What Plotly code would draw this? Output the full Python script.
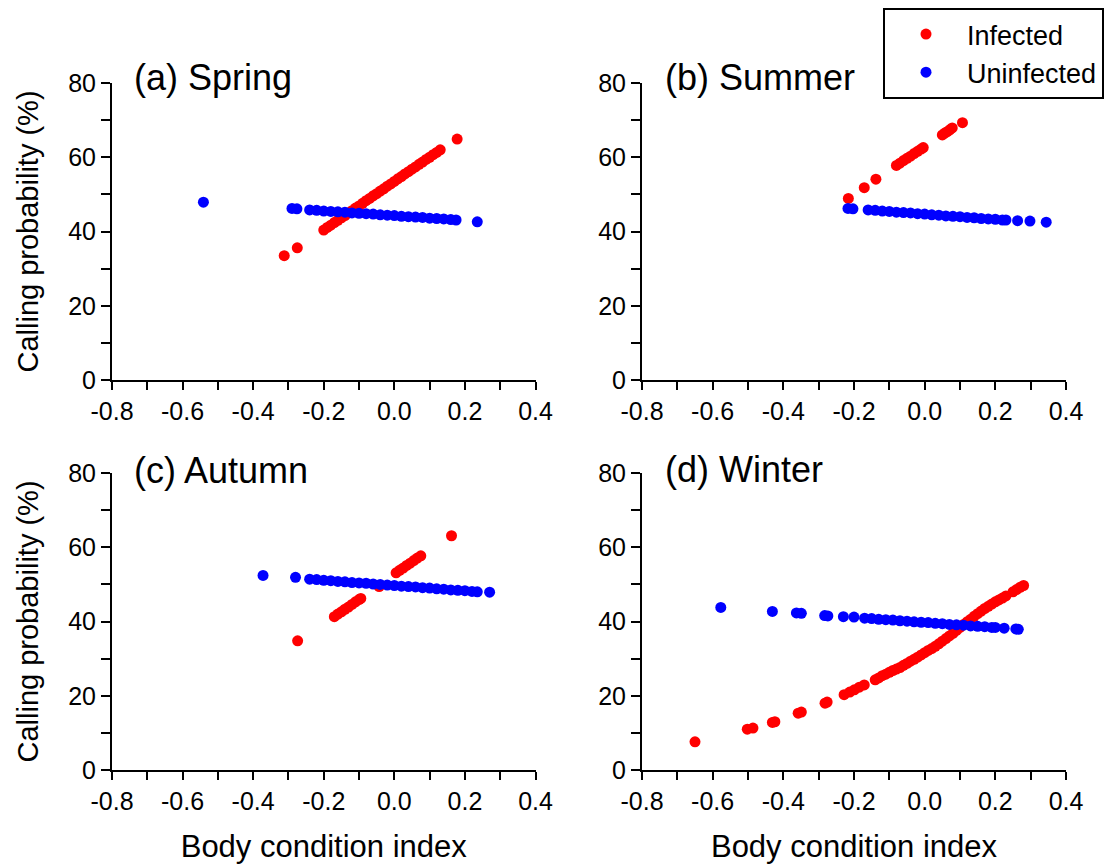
import plotly.graph_objects as go

# ---------------- data ----------------
spring_inf_x = [-0.312, -0.275, -0.20, -0.19, -0.18, -0.17, -0.16, -0.15, -0.14, -0.13, -0.12, -0.11,
                -0.10, -0.09, -0.08, -0.07, -0.06, -0.05, -0.04, -0.03, -0.02, -0.01,
                0.00, 0.01, 0.02, 0.03, 0.04, 0.05, 0.06, 0.07, 0.08, 0.09,
                0.10, 0.11, 0.12, 0.13, 0.178]
spring_inf_y = [33.5, 35.6, 40.4, 41.1, 41.7, 42.4, 43.0, 43.7, 44.3, 45.0, 45.6, 46.3,
                46.9, 47.6, 48.3, 48.9, 49.6, 50.2, 50.9, 51.5, 52.2, 52.8,
                53.5, 54.2, 54.8, 55.5, 56.1, 56.8, 57.4, 58.1, 58.7, 59.4,
                60.0, 60.7, 61.3, 62.0, 64.9]
spring_uninf_x = [-0.541, -0.290, -0.276, -0.24, -0.22, -0.20, -0.18, -0.16, -0.14, -0.12, -0.10,
                  -0.08, -0.06, -0.04, -0.02, 0.00, 0.02, 0.04, 0.06, 0.08, 0.10, 0.12, 0.14,
                  0.16, 0.175, 0.235]
spring_uninf_y = [47.9, 46.2, 46.1, 45.8, 45.7, 45.5, 45.4, 45.3, 45.2, 45.0, 44.9,
                  44.8, 44.7, 44.5, 44.4, 44.3, 44.1, 44.0, 43.9, 43.8, 43.6, 43.5, 43.4,
                  43.2, 43.1, 42.6]

summer_inf_x = [-0.216, -0.171, -0.138, -0.080, -0.070, -0.060, -0.050, -0.040, -0.030, -0.020,
                -0.010, -0.004, 0.050, 0.057, 0.064, 0.071, 0.078, 0.107]
summer_inf_y = [48.9, 51.8, 54.1, 57.8, 58.4, 59.1, 59.7, 60.3, 61.0, 61.6,
                62.2, 62.6, 66.0, 66.5, 66.9, 67.4, 67.9, 69.3]
summer_uninf_x = [-0.217, -0.203, -0.16, -0.14, -0.12, -0.10, -0.08, -0.06, -0.04, -0.02, 0.00,
                  0.02, 0.04, 0.06, 0.08, 0.10, 0.12, 0.14, 0.16, 0.18, 0.20, 0.22, 0.23,
                  0.263, 0.298, 0.344]
summer_uninf_y = [46.2, 46.1, 45.8, 45.7, 45.5, 45.4, 45.2, 45.1, 45.0, 44.8, 44.7,
                  44.5, 44.4, 44.2, 44.1, 44.0, 43.8, 43.7, 43.5, 43.4, 43.3, 43.1, 43.1,
                  42.9, 42.8, 42.5]

autumn_inf_x = [-0.274, -0.170, -0.160, -0.150, -0.140, -0.130, -0.120, -0.110, -0.100, -0.095,
                -0.043, 0.005, 0.015, 0.025, 0.035, 0.045, 0.055, 0.065, 0.075, 0.162]
autumn_inf_y = [34.8, 41.3, 42.0, 42.6, 43.3, 43.9, 44.6, 45.3, 45.9, 46.2,
                49.4, 53.1, 53.8, 54.4, 55.1, 55.7, 56.4, 57.1, 57.7, 63.1]
autumn_uninf_x = [-0.372, -0.280, -0.24, -0.22, -0.20, -0.18, -0.16, -0.14, -0.12, -0.10, -0.08,
                  -0.06, -0.04, -0.02, 0.00, 0.02, 0.04, 0.06, 0.08, 0.10, 0.12, 0.14, 0.16,
                  0.18, 0.20, 0.22, 0.235, 0.270]
autumn_uninf_y = [52.4, 51.9, 51.4, 51.3, 51.1, 51.0, 50.8, 50.7, 50.5, 50.4, 50.3,
                  50.1, 50.0, 49.8, 49.7, 49.5, 49.4, 49.3, 49.1, 49.0, 48.8, 48.7, 48.5,
                  48.4, 48.3, 48.1, 48.0, 47.9]

winter_inf_x = [-0.650, -0.502, -0.486, -0.431, -0.424, -0.358, -0.349, -0.282, -0.276,
                -0.228, -0.212, -0.199, -0.185, -0.171,
                -0.14, -0.13, -0.12, -0.11, -0.10, -0.09, -0.08, -0.07, -0.06, -0.05,
                -0.04, -0.03, -0.02, -0.01, 0.00, 0.01, 0.02, 0.03, 0.04, 0.05,
                0.06, 0.07, 0.08, 0.09, 0.10, 0.11, 0.12, 0.13, 0.14, 0.15,
                0.16, 0.17, 0.18, 0.19, 0.20, 0.21, 0.22, 0.23,
                0.25, 0.26, 0.27, 0.28]
winter_inf_y = [7.6, 11.0, 11.3, 12.8, 13.0, 15.3, 15.6, 18.0, 18.3,
                20.3, 21.0, 21.6, 22.3, 22.9,
                24.3, 24.8, 25.4, 25.8, 26.3, 26.8, 27.2, 27.6, 28.2, 28.7,
                29.3, 29.8, 30.4, 31.0, 31.6, 32.2, 32.7, 33.3, 34.0, 34.7,
                35.4, 36.1, 36.8, 37.6, 38.4, 39.2, 39.9, 40.6, 41.4, 42.1,
                42.8, 43.5, 44.1, 44.7, 45.3, 45.8, 46.3, 46.9,
                48.0, 48.6, 49.2, 49.7]
winter_uninf_x = [-0.577, -0.431, -0.363, -0.349, -0.283, -0.274, -0.230, -0.200,
                  -0.17, -0.15, -0.13, -0.11, -0.09, -0.07, -0.05, -0.03, -0.01, 0.01,
                  0.03, 0.05, 0.07, 0.09, 0.11, 0.13, 0.15, 0.17, 0.19, 0.20,
                  0.225, 0.258, 0.265]
winter_uninf_y = [43.8, 42.7, 42.3, 42.2, 41.6, 41.5, 41.3, 41.2,
                  40.9, 40.8, 40.6, 40.5, 40.4, 40.2, 40.1, 39.9, 39.8, 39.7,
                  39.5, 39.4, 39.2, 39.1, 39.0, 38.8, 38.7, 38.6, 38.4, 38.4,
                  38.2, 38.0, 37.9]

panel_titles = ["(a) Spring", "(b) Summer", "(c) Autumn", "(d) Winter"]
series_names = ["Infected", "Uninfected"]
x_tickvals = [-0.8, -0.6, -0.4, -0.2, 0.0, 0.2, 0.4]
x_ticktext = ["-0.8", "-0.6", "-0.4", "-0.2", "0.0", "0.2", "0.4"]
x_minorvals = [-0.7, -0.5, -0.3, -0.1, 0.1, 0.3]
y_tickvals = [0, 20, 40, 60, 80]
y_ticktext = ["0", "20", "40", "60", "80"]
y_minorvals = [10, 30, 50, 70]
x_title = "Body condition index"
y_title = "Calling probability (%)"

# ---------------- figure ----------------
W, H = 1118, 866
RED, BLUE = "#ff0000", "#0000ff"
FONT = "Arial, 'Liberation Sans', Helvetica, sans-serif"

panels = [
    (spring_inf_x, spring_inf_y, spring_uninf_x, spring_uninf_y),
    (summer_inf_x, summer_inf_y, summer_uninf_x, summer_uninf_y),
    (autumn_inf_x, autumn_inf_y, autumn_uninf_x, autumn_uninf_y),
    (winter_inf_x, winter_inf_y, winter_uninf_x, winter_uninf_y),
]

fig = go.Figure()
for i, (ix, iy, ux, uy) in enumerate(panels):
    xa = "x" if i == 0 else f"x{i+1}"
    ya = "y" if i == 0 else f"y{i+1}"
    fig.add_trace(go.Scatter(x=ix, y=iy, mode="markers", name=series_names[0],
                             marker=dict(color=RED, size=11, line=dict(width=0)),
                             xaxis=xa, yaxis=ya, showlegend=(i == 0)))
    fig.add_trace(go.Scatter(x=ux, y=uy, mode="markers", name=series_names[1],
                             marker=dict(color=BLUE, size=11, line=dict(width=0)),
                             xaxis=xa, yaxis=ya, showlegend=(i == 0)))

x_dom_left = [112 / W, 535.5 / W]
x_dom_right = [642 / W, 1066 / W]
y_dom_top = [1 - 380 / H, 1 - 83 / H]
y_dom_bot = [1 - 770 / H, 1 - 473 / H]

def xaxis(domain, anchor, show_title):
    return dict(domain=domain, anchor=anchor, range=[-0.8, 0.4], showgrid=False, zeroline=False,
                automargin=False,
                showline=True, linecolor="black", linewidth=2,
                ticks="outside", ticklen=8, tickwidth=2, tickcolor="black",
                tickmode="array", tickvals=x_tickvals, ticktext=x_ticktext,
                minor=dict(tickmode="array", tickvals=x_minorvals, ticks="outside",
                           ticklen=8, tickwidth=2, tickcolor="black"),
                tickfont=dict(family=FONT, size=25, color="black"),
                title=dict(text=x_title if show_title else "", standoff=21,
                           font=dict(family=FONT, size=31, color="black")),
                fixedrange=True)

def yaxis(domain, anchor, show_title):
    return dict(domain=domain, anchor=anchor, range=[0, 80], showgrid=False, zeroline=False,
                automargin=False,
                showline=True, linecolor="black", linewidth=2,
                ticks="outside", ticklen=9, tickwidth=2, tickcolor="black",
                tickmode="array", tickvals=y_tickvals, ticktext=y_ticktext,
                minor=dict(tickmode="array", tickvals=y_minorvals, ticks="outside",
                           ticklen=9, tickwidth=2, tickcolor="black"),
                tickfont=dict(family=FONT, size=25, color="black"),
                title=dict(text=y_title if show_title else "", standoff=21,
                           font=dict(family=FONT, size=29, color="black")),
                fixedrange=True)

fig.update_layout(
    width=W, height=H, autosize=False,
    margin=dict(l=0, r=0, t=0, b=0, pad=0, autoexpand=False),
    paper_bgcolor="white", plot_bgcolor="white",
    font=dict(family=FONT, color="black"),
    xaxis=xaxis(x_dom_left, "y", False),
    yaxis=yaxis(y_dom_top, "x", True),
    xaxis2=xaxis(x_dom_right, "y2", False),
    yaxis2=yaxis(y_dom_top, "x2", False),
    xaxis3=xaxis(x_dom_left, "y3", True),
    yaxis3=yaxis(y_dom_bot, "x3", True),
    xaxis4=xaxis(x_dom_right, "y4", True),
    yaxis4=yaxis(y_dom_bot, "x4", False),
    legend=dict(x=883 / W, y=1 - 8 / H, xanchor="left", yanchor="top",
                bordercolor="black", borderwidth=2, bgcolor="white",
                font=dict(family=FONT, size=27, color="black"),
                itemwidth=72, tracegroupgap=0),
    showlegend=True,
)

label_pos = [(132, 77), (663, 77), (132, 470), (663, 469)]
for (px, py), txt in zip(label_pos, panel_titles):
    fig.add_annotation(x=px / W, y=1 - py / H, xref="paper", yref="paper",
                       xanchor="left", yanchor="middle", text=txt, showarrow=False,
                       font=dict(family=FONT, size=36, color="black"))

fig.write_html("out.html", config={"displayModeBar": False, "staticPlot": True},
               post_script="document.body.style.margin='0';document.body.style.overflow='hidden';")
